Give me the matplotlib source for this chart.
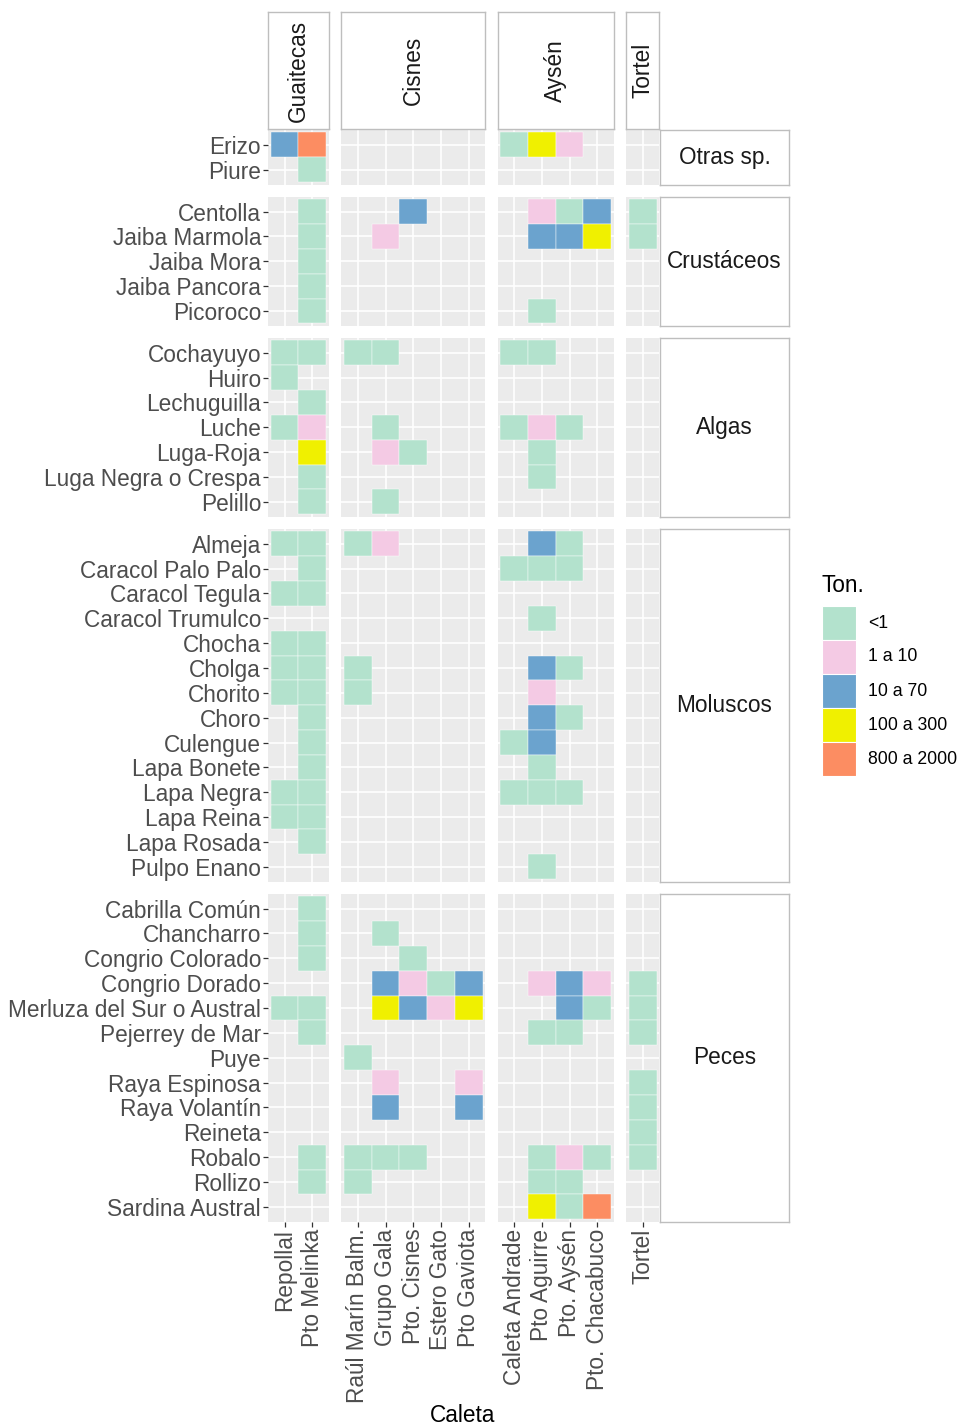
import numpy as np
import matplotlib.pyplot as plt

plt.rcParams["font.family"] = ["Liberation Sans", "DejaVu Sans"]

comunas = ["Guaitecas", "Cisnes", "Aysén", "Tortel"]
caletas = [
    ["Repollal", "Pto Melinka"],
    ["Raúl Marín Balm.", "Grupo Gala", "Pto. Cisnes", "Estero Gato", "Pto Gaviota"],
    ["Caleta Andrade", "Pto Aguirre", "Pto. Aysén", "Pto. Chacabuco"],
    ["Tortel"],
]
grupos = ["Otras sp.", "Crustáceos", "Algas", "Moluscos", "Peces"]
especies = [
    ["Erizo", "Piure"],
    ["Centolla", "Jaiba Marmola", "Jaiba Mora", "Jaiba Pancora", "Picoroco"],
    ["Cochayuyo", "Huiro", "Lechuguilla", "Luche", "Luga-Roja",
     "Luga Negra o Crespa", "Pelillo"],
    ["Almeja", "Caracol Palo Palo", "Caracol Tegula", "Caracol Trumulco", "Chocha",
     "Cholga", "Chorito", "Choro", "Culengue", "Lapa Bonete", "Lapa Negra",
     "Lapa Reina", "Lapa Rosada", "Pulpo Enano"],
    ["Cabrilla Común", "Chancharro", "Congrio Colorado", "Congrio Dorado",
     "Merluza del Sur o Austral", "Pejerrey de Mar", "Puye", "Raya Espinosa",
     "Raya Volantín", "Reineta", "Robalo", "Rollizo", "Sardina Austral"],
]
niveles = ["<1", "1 a 10", "10 a 70", "100 a 300", "800 a 2000"]
colores = ["#B3E2CD", "#F4CAE4", "#6BA3CE", "#F0F000", "#FC8D62"]

# nivel de captura por caleta (1..5 = indice en niveles, "." = sin dato)
# orden: Guaitecas | Cisnes | Aysén | Tortel
capturas = {
    "Erizo": "35|.....|142.|.",
    "Piure": ".1|.....|....|.",
    "Centolla": ".1|..3..|.213|1",
    "Jaiba Marmola": ".1|.2...|.334|1",
    "Jaiba Mora": ".1|.....|....|.",
    "Jaiba Pancora": ".1|.....|....|.",
    "Picoroco": ".1|.....|.1..|.",
    "Cochayuyo": "11|11...|11..|.",
    "Huiro": "1.|.....|....|.",
    "Lechuguilla": ".1|.....|....|.",
    "Luche": "12|.1...|121.|.",
    "Luga-Roja": ".4|.21..|.1..|.",
    "Luga Negra o Crespa": ".1|.....|.1..|.",
    "Pelillo": ".1|.1...|....|.",
    "Almeja": "11|12...|.31.|.",
    "Caracol Palo Palo": ".1|.....|111.|.",
    "Caracol Tegula": "11|.....|....|.",
    "Caracol Trumulco": "..|.....|.1..|.",
    "Chocha": "11|.....|....|.",
    "Cholga": "11|1....|.31.|.",
    "Chorito": "11|1....|.2..|.",
    "Choro": ".1|.....|.31.|.",
    "Culengue": ".1|.....|13..|.",
    "Lapa Bonete": ".1|.....|.1..|.",
    "Lapa Negra": "11|.....|111.|.",
    "Lapa Reina": "11|.....|....|.",
    "Lapa Rosada": ".1|.....|....|.",
    "Pulpo Enano": "..|.....|.1..|.",
    "Cabrilla Común": ".1|.....|....|.",
    "Chancharro": ".1|.1...|....|.",
    "Congrio Colorado": ".1|..1..|....|.",
    "Congrio Dorado": "..|.3213|.232|1",
    "Merluza del Sur o Austral": "11|.4324|..31|1",
    "Pejerrey de Mar": ".1|.....|.11.|1",
    "Puye": "..|1....|....|.",
    "Raya Espinosa": "..|.2..2|....|1",
    "Raya Volantín": "..|.3..3|....|1",
    "Reineta": "..|.....|....|1",
    "Robalo": ".1|111..|.121|1",
    "Rollizo": ".1|1....|.11.|.",
    "Sardina Austral": "..|.....|.415|.",
}

W, H = 959, 1428
fig = plt.figure(figsize=(W / 100, H / 100), dpi=100)


def px_axes(x0, y0, w, h):
    return fig.add_axes([x0 / W, 1 - (y0 + h) / H, w / W, h / H])


FS = 16.3
uw, uh = 27.7, 24.85

# posiciones de paneles en pixeles
xs, ws = [], []
x = 268
for cl in caletas:
    w = (len(cl) + 0.2) * uw
    xs.append(x)
    ws.append(w)
    x += w + 12.3
ys, hs = [], []
y = 130
for sp in especies:
    h = (len(sp) + 0.2) * uh
    ys.append(y)
    hs.append(h)
    y += h + 12

for ri, sp in enumerate(especies):
    for ci, cl in enumerate(caletas):
        ax = px_axes(xs[ci], ys[ri], ws[ci], hs[ri])
        ax.set_facecolor("#EBEBEB")
        ax.set_xlim(-0.6, len(cl) - 0.4)
        ax.set_ylim(len(sp) - 0.4, -0.6)
        ax.set_xticks(range(len(cl)))
        ax.set_yticks(range(len(sp)))
        ax.grid(True, color="white", linewidth=1.2)
        ax.set_axisbelow(True)
        for s in ax.spines.values():
            s.set_visible(False)
        offset = sum(len(c) for c in caletas[:ci])
        for i, nombre in enumerate(sp):
            codigos = capturas[nombre].replace("|", "")
            for j in range(len(cl)):
                c = codigos[offset + j]
                if c != ".":
                    ax.bar(j, 1, bottom=i - 0.5, width=1, color=colores[int(c) - 1],
                           edgecolor="white", linewidth=0.3)
        ax.tick_params(colors="#333333", labelcolor="#4D4D4D", length=3.5,
                       width=0.9, pad=1.5, labelsize=FS)
        if ci == 0:
            ax.set_yticklabels(sp)
        else:
            ax.tick_params(axis="y", left=False, labelleft=False)
        if ri == len(especies) - 1:
            ax.set_xticklabels(cl, rotation=90, va="top", ha="center")
        else:
            ax.tick_params(axis="x", bottom=False, labelbottom=False)

# tiras superiores (comunas)
for ci, com in enumerate(comunas):
    sa = px_axes(xs[ci], 12, ws[ci], 117)
    sa.set_xticks([])
    sa.set_yticks([])
    for s in sa.spines.values():
        s.set_color("#BEBEBE")
        s.set_linewidth(1.0)
    sa.text(0.5, 0.5, com, rotation=90, ha="center", va="center",
            fontsize=FS, color="#1A1A1A", transform=sa.transAxes)

# tiras laterales (grupos)
for ri, g in enumerate(grupos):
    sa = px_axes(660, ys[ri], 129, hs[ri])
    sa.set_xticks([])
    sa.set_yticks([])
    for s in sa.spines.values():
        s.set_color("#BEBEBE")
        s.set_linewidth(1.0)
    sa.text(0.5, 0.5, g, ha="center", va="center",
            fontsize=FS, color="#1A1A1A", transform=sa.transAxes)

# titulo eje x
fig.text(463 / W, 1 - 1416 / H, "Caleta", ha="center", va="center",
         fontsize=FS, color="black")

# leyenda
la = px_axes(822, 606, 34, 170)
la.set_xlim(0, 1)
la.set_ylim(len(niveles), 0)
la.axis("off")
for k, (nv, col) in enumerate(zip(niveles, colores)):
    la.bar(0.5, 1, bottom=k, width=1, color=col, edgecolor="white", linewidth=0.8)
    fig.text(868 / W, 1 - (606 + 34 * k + 17) / H, nv, ha="left", va="center",
             fontsize=12.7, color="black")
fig.text(822 / W, 1 - 585 / H, "Ton.", ha="left", va="center", fontsize=FS,
         color="black")

fig.savefig("out.png", dpi=100)
